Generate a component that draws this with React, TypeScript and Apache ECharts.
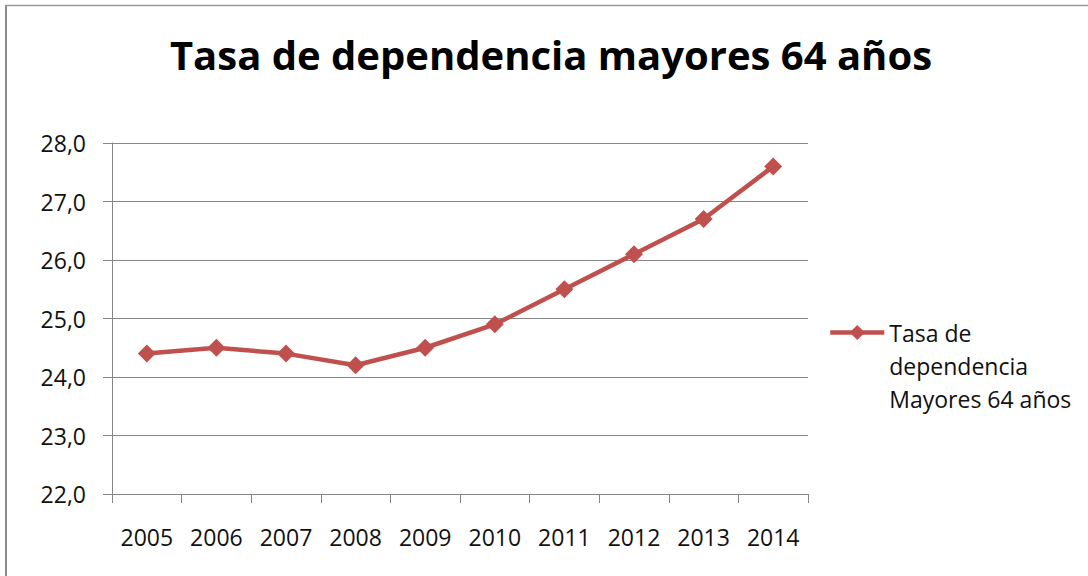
import React, { useEffect, useRef } from "react";
import * as echarts from "echarts";

const years = ["2005", "2006", "2007", "2008", "2009", "2010", "2011", "2012", "2013", "2014"];
const values = [24.4, 24.5, 24.4, 24.2, 24.5, 24.9, 25.5, 26.1, 26.7, 27.6];
const seriesName = "Tasa de dependencia Mayores 64 años";
const legendLines = ["", "", "Tasa de", "dependencia", "Mayores 64 años"];
const titleText = "Tasa de dependencia mayores 64 años";

const FONT = "'Open Sans', 'Liberation Sans', sans-serif";
const RED = "#C0504D";
const GRAY = "#868686";

export default function App() {
  const ref = useRef<HTMLDivElement>(null);
  useEffect(() => {
    if (!ref.current) return;
    const chart = echarts.init(ref.current, undefined, { renderer: "svg" });
    chart.setOption({
      animation: false,
      backgroundColor: "#ffffff",
      title: {
        text: titleText,
        left: 546,
        textAlign: "center",
        top: 29,
        textStyle: { fontFamily: FONT, fontSize: 40, fontWeight: "bold", color: "#000" },
      },
      graphic: [
        { type: "line", shape: { x1: 6, y1: 5, x2: 6, y2: 576 }, style: { stroke: "#8c8c8c", lineWidth: 2 } },
        { type: "line", shape: { x1: 6, y1: 5.5, x2: 1088, y2: 5.5 }, style: { stroke: "#9a9a9a", lineWidth: 1.5 } },
      ],
      legend: {
        left: 828,
        top: 250,
        padding: 0,
        orient: "vertical",
        itemWidth: 54,
        itemHeight: 19,
        lineStyle: { width: 4.5 },
        data: [seriesName],
        formatter: () => legendLines.join("\n"),
        textStyle: {
          fontFamily: FONT,
          fontSize: 23,
          lineHeight: 33,
          color: "#111",
        },
      },
      grid: { left: 112, right: 280, top: 143, bottom: 82 },
      xAxis: {
        type: "category",
        data: years,
        boundaryGap: true,
        axisLine: { lineStyle: { color: GRAY, width: 1 } },
        axisTick: { show: true, length: 9, interval: 0, lineStyle: { color: GRAY } },
        axisLabel: { fontFamily: FONT, fontSize: 23, color: "#111", margin: 31, interval: 0 },
      },
      yAxis: {
        type: "value",
        min: 22,
        max: 28,
        interval: 1,
        axisLine: { show: true, lineStyle: { color: GRAY, width: 1 } },
        axisTick: { show: true, length: 9, lineStyle: { color: GRAY } },
        axisLabel: {
          fontFamily: FONT,
          fontSize: 23,
          color: "#111",
          margin: 26,
          formatter: (v: number) => v.toFixed(1).replace(".", ","),
        },
        splitLine: { show: true, lineStyle: { color: GRAY, width: 1 } },
      },
      series: [
        {
          name: seriesName,
          type: "line",
          data: values,
          symbol: "diamond",
          symbolSize: 18,
          lineStyle: { color: RED, width: 4.5 },
          itemStyle: { color: RED },
        },
      ],
    });
    return () => chart.dispose();
  }, []);
  return (
    <div
      ref={ref}
      style={{ position: "fixed", left: 0, top: 0, width: 1088, height: 576 }}
    />
  );
}
